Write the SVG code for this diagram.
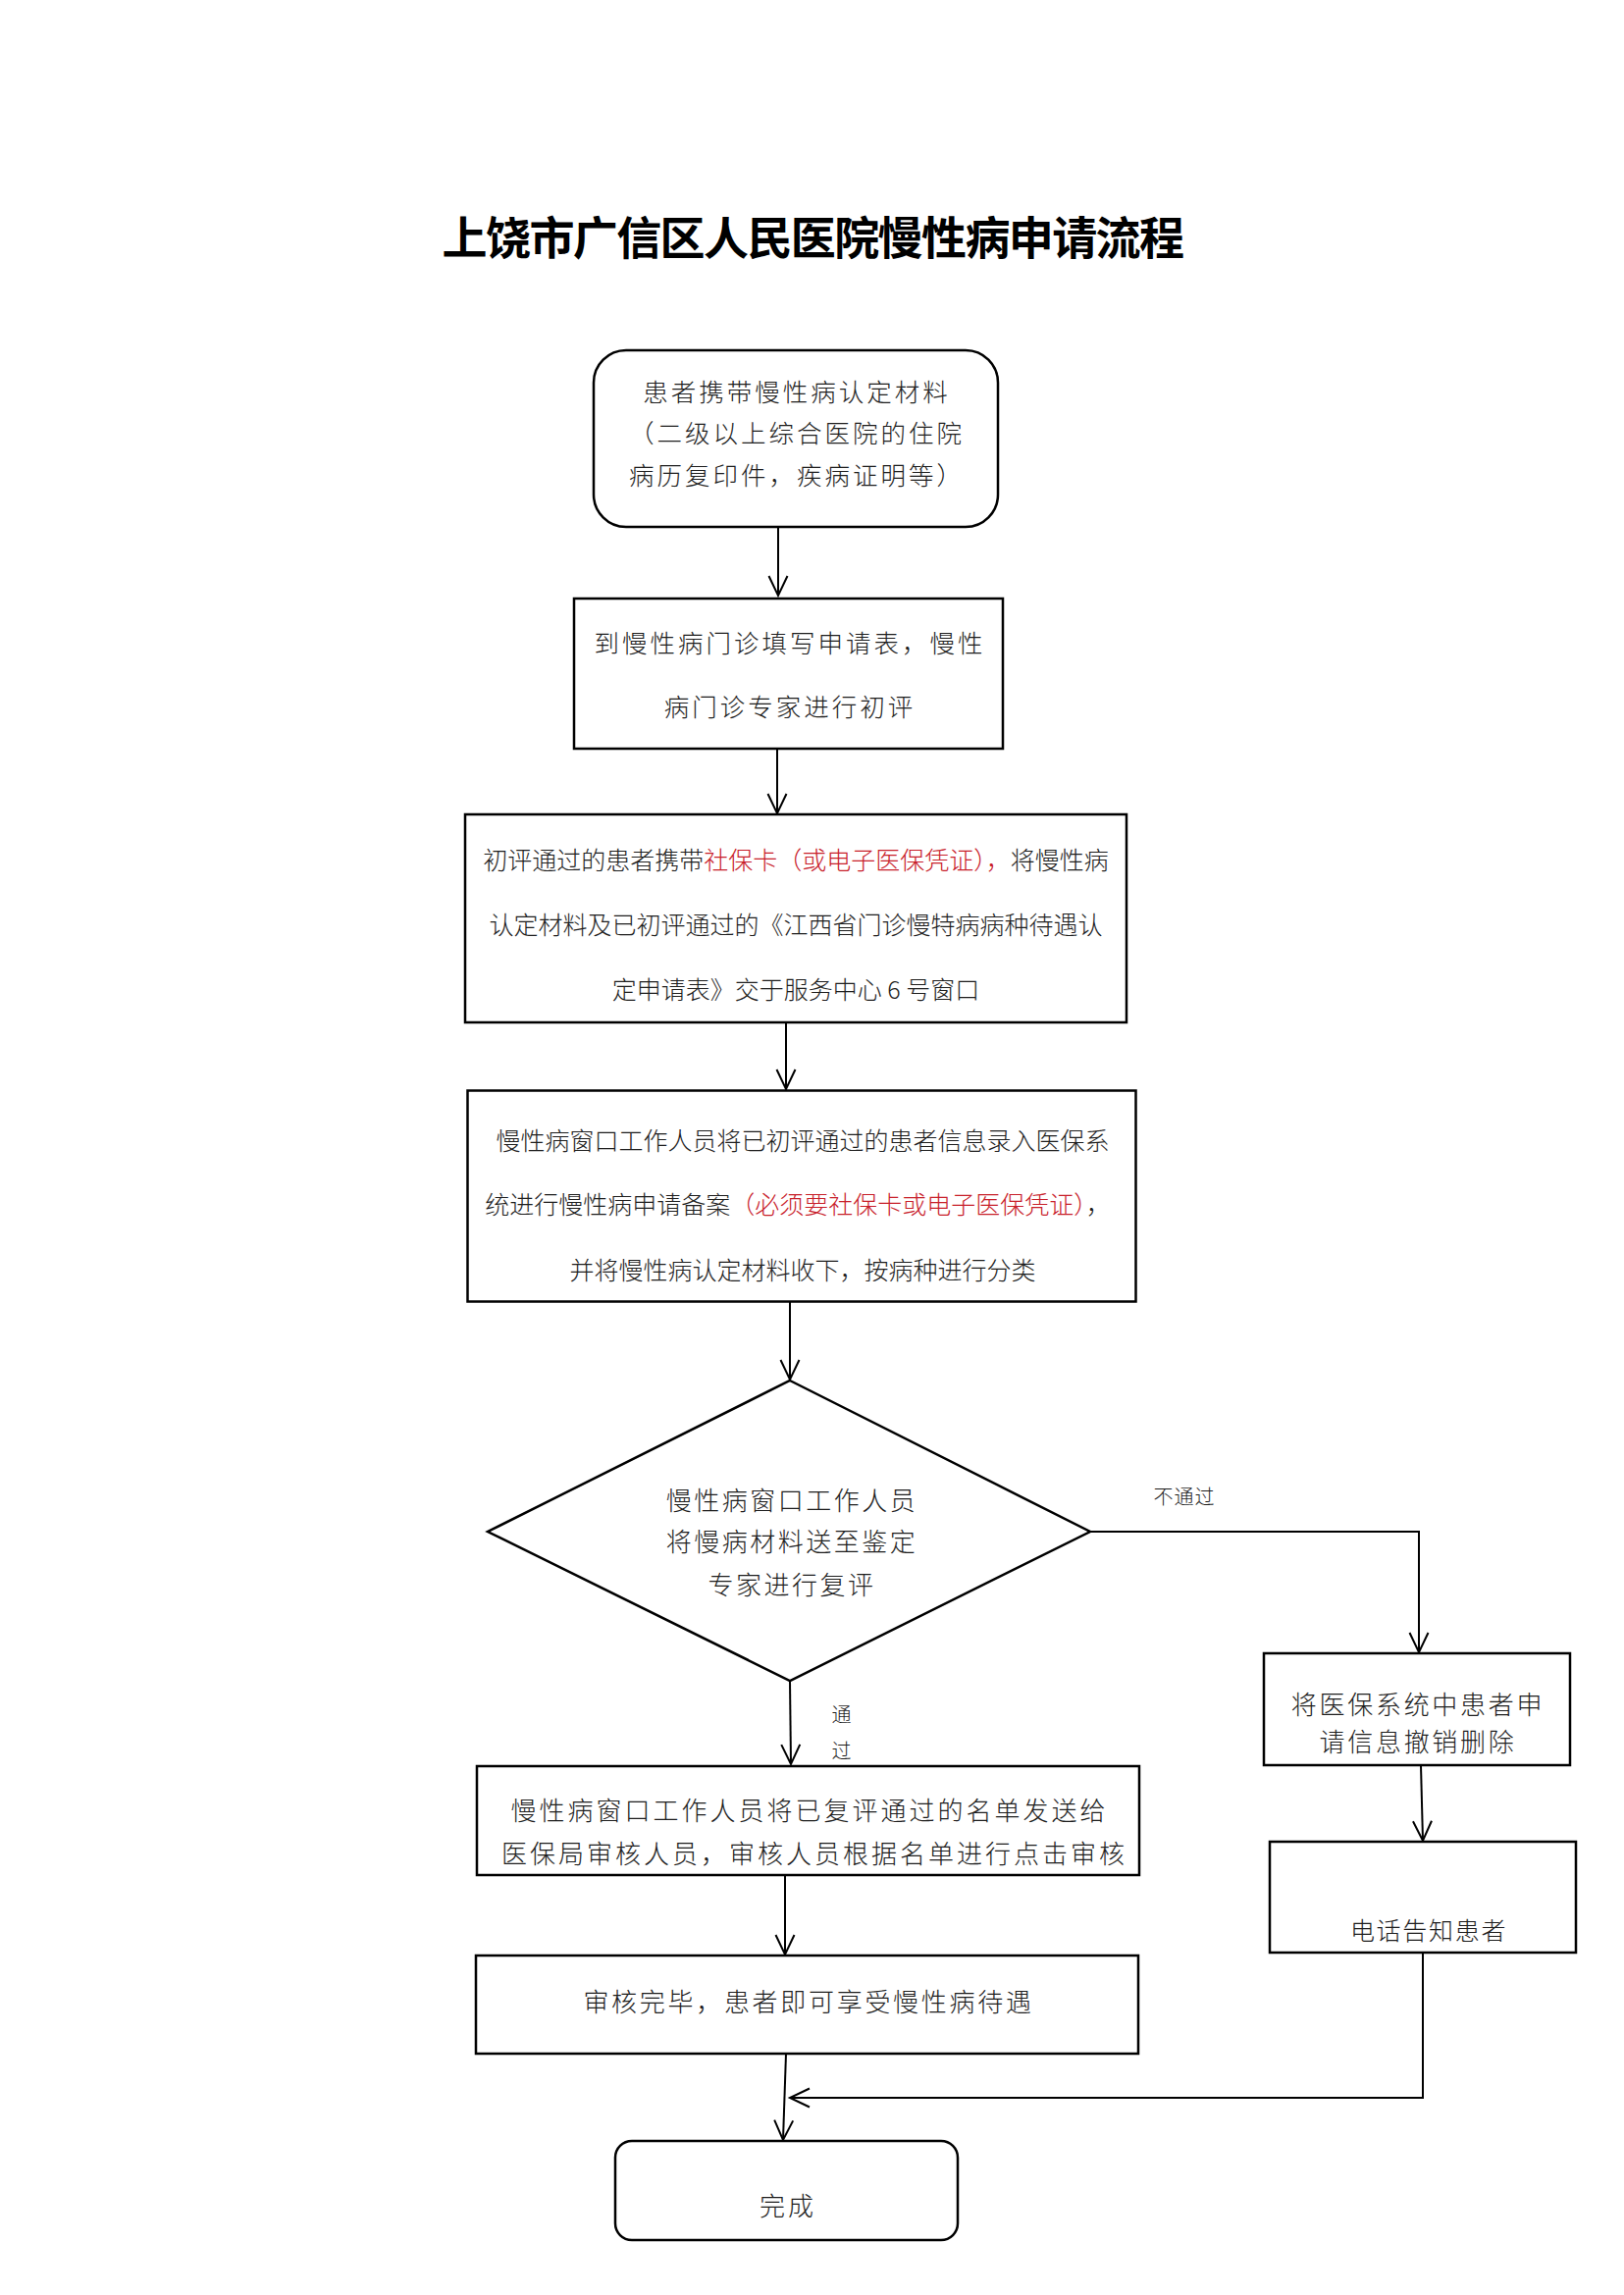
<svg xmlns="http://www.w3.org/2000/svg" width="1655" height="2339" viewBox="0 0 1655 2339">
<style>
.box{fill:#fff;stroke:#000;stroke-width:2.5}
.con{fill:none;stroke:#000;stroke-width:2}
text{font-family:"Noto Sans CJK SC","Noto Sans",sans-serif;fill:#1e1e1e;text-anchor:middle;font-weight:300}
.t28{font-size:25.5px;letter-spacing:3px}
.t25{font-size:25px}
.lbl{font-size:20px;letter-spacing:1px}
.red{fill:#c8202a}
</style>
<defs>
<marker id="arr" viewBox="-24 -12 28 24" refX="0" refY="0" markerWidth="28" markerHeight="24" markerUnits="userSpaceOnUse" orient="auto">
<path d="M-20,-9.5 L0,0 L-20,9.5" fill="none" stroke="#000" stroke-width="2"/>
</marker>
</defs>
<rect width="1655" height="2339" fill="#fff"/>
<text id="title" x="828" y="259" style="font-size:46px;font-weight:bold;letter-spacing:-1.6px;fill:#000">上饶市广信区人民医院慢性病申请流程</text>

<g id="connectors">
<line class="con" x1="793" y1="537" x2="793" y2="607" marker-end="url(#arr)"/>
<line class="con" x1="792" y1="764" x2="792" y2="829" marker-end="url(#arr)"/>
<line class="con" x1="801" y1="1042" x2="801" y2="1110" marker-end="url(#arr)"/>
<line class="con" x1="805" y1="1327" x2="805" y2="1406" marker-end="url(#arr)"/>
<line class="con" x1="805" y1="1713" x2="806" y2="1798" marker-end="url(#arr)"/>
<line class="con" x1="800" y1="1911" x2="800" y2="1992" marker-end="url(#arr)"/>
<line class="con" x1="801" y1="2093" x2="798" y2="2181" marker-end="url(#arr)"/>
<polyline class="con" points="1111,1561 1446,1561 1446,1684" marker-end="url(#arr)"/>
<line class="con" x1="1448" y1="1799" x2="1450" y2="1876" marker-end="url(#arr)"/>
<polyline class="con" points="1450,1990 1450,2138 805,2138" marker-end="url(#arr)"/>
<text class="lbl" x="1207" y="1533">不通过</text>
<text class="lbl" x="858" y="1755">通</text>
<text class="lbl" x="858" y="1792">过</text>
</g>

<g id="n1">
<rect class="box" x="605" y="357" width="412" height="180" rx="33" ry="33"/>
<text class="t28" x="812" y="409">患者携带慢性病认定材料</text>
<text class="t28" x="812" y="451">（二级以上综合医院的住院</text>
<text class="t28" x="812" y="494">病历复印件，疾病证明等）</text>
</g>

<g id="n2">
<rect class="box" x="585" y="610" width="437" height="153"/>
<text class="t28" x="805" y="665">到慢性病门诊填写申请表，慢性</text>
<text class="t28" x="805" y="730">病门诊专家进行初评</text>
</g>

<g id="n3">
<rect class="box" x="474" y="830" width="674" height="212"/>
<text class="t25" x="811" y="886">初评通过的患者携带<tspan class="red">社保卡（或电子医保凭证），</tspan>将慢性病</text>
<text class="t25" x="811" y="952">认定材料及已初评通过的《江西省门诊慢特病病种待遇认</text>
<text class="t25" x="811" y="1018">定申请表》交于服务中心 6 号窗口</text>
</g>

<g id="n4">
<rect class="box" x="476.5" y="1111.5" width="681" height="215"/>
<text class="t25" x="818" y="1172">慢性病窗口工作人员将已初评通过的患者信息录入医保系</text>
<text class="t25" x="813" y="1237">统进行慢性病申请备案<tspan class="red">（必须要社保卡或电子医保凭证）</tspan>，</text>
<text class="t25" x="818" y="1304">并将慢性病认定材料收下，按病种进行分类</text>
</g>

<g id="n5">
<polygon class="box" points="805,1407 1111,1561 805,1713 497,1561"/>
<text style="font-size:26px;letter-spacing:2.5px" x="807" y="1539">慢性病窗口工作人员</text>
<text style="font-size:26px;letter-spacing:2.5px" x="807" y="1581">将慢病材料送至鉴定</text>
<text style="font-size:26px;letter-spacing:2.5px" x="807" y="1625">专家进行复评</text>
</g>

<g id="n6">
<rect class="box" x="1288" y="1685" width="312" height="114"/>
<text style="font-size:26px;letter-spacing:2.7px" x="1445" y="1747">将医保系统中患者申</text>
<text style="font-size:26px;letter-spacing:2.7px" x="1445" y="1785">请信息撤销删除</text>
</g>

<g id="n7">
<rect class="box" x="1294" y="1877" width="312" height="113"/>
<text style="font-size:25px;letter-spacing:1.7px" x="1456" y="1977">电话告知患者</text>
</g>

<g id="n8">
<rect class="box" x="486" y="1800" width="675" height="111"/>
<text style="font-size:26px;letter-spacing:3px" x="825" y="1855">慢性病窗口工作人员将已复评通过的名单发送给</text>
<text style="font-size:26px;letter-spacing:3px" x="830" y="1899">医保局审核人员，审核人员根据名单进行点击审核</text>
</g>

<g id="n9">
<rect class="box" x="485" y="1993" width="675" height="100"/>
<text style="font-size:26px;letter-spacing:2.7px" x="824" y="2050">审核完毕，患者即可享受慢性病待遇</text>
</g>

<g id="n10">
<rect class="box" x="627" y="2182" width="349" height="101" rx="17" ry="17"/>
<text style="font-size:26px;letter-spacing:3px" x="803" y="2258">完成</text>
</g>
</svg>
